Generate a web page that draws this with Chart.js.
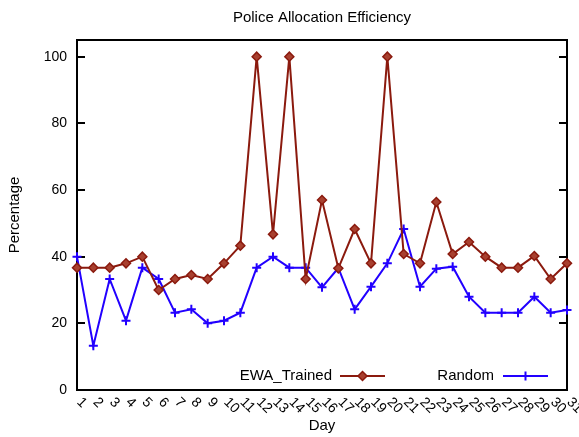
<!DOCTYPE html>
<html>
<head>
<meta charset="utf-8">
<script src="https://cdn.jsdelivr.net/npm/chart.js@4/dist/chart.umd.min.js"></script>
<style>
html,body{margin:0;padding:0;background:#fff;}
#wrap{width:579px;height:437px;}
</style>
</head>
<body>
<div id="wrap"><canvas id="c" width="579" height="437"></canvas></div>
<script>
const days = ["1","2","3","4","5","6","7","8","9","10","11","12","13","14","15","16","17","18","19","20","21","22","23","24","25","26","27","28","29","30","31"];
const ewaTrained = [36.7,36.7,36.7,38,40,30,33.3,34.5,33.3,38,43.3,100,46.7,100,33.3,57,36.5,48.3,38,100,40.8,38,56.4,40.8,44.4,40,36.7,36.7,40.2,33.3,38];
const randomAlloc = [40,13.3,33.3,20.8,36.7,33.3,23.2,24.2,20,20.8,23.2,36.7,40,36.7,36.7,30.8,36.6,24.2,31,38,48.3,31,36.4,37,28,23.2,23.2,23.2,28,23.2,24];
const yTicks = [0,20,40,60,80,100];
const chartTitle = "Police Allocation Efficiency";
const xTitle = "Day";
const yTitle = "Percentage";

const FAM = "'Liberation Sans', Arial, sans-serif";
const F14 = "14px " + FAM;
const F15 = "15px " + FAM;
const RED = "#8b1a0e";
const BLUE = "#2200ff";

const decor = {
  id: "decor",
  beforeDatasetsDraw(chart) {
    const ctx = chart.ctx, a = chart.chartArea, y = chart.scales.y;
    ctx.save();
    ctx.strokeStyle = "#000";
    ctx.lineWidth = 2;
    ctx.strokeRect(a.left, a.top, a.right - a.left, a.bottom - a.top);
    ctx.beginPath();
    yTicks.forEach(v => {
      const py = Math.round(y.getPixelForValue(v));
      ctx.moveTo(a.left, py); ctx.lineTo(a.left + 8, py);
      ctx.moveTo(a.right, py); ctx.lineTo(a.right - 8, py);
    });
    ctx.stroke();
    ctx.restore();
  },
  afterDraw(chart) {
    const ctx = chart.ctx, a = chart.chartArea, x = chart.scales.x;
    ctx.save();
    ctx.fillStyle = "#000";
    ctx.textAlign = "center"; ctx.textBaseline = "middle";
    ctx.font = F15;
    ctx.fillText(chartTitle, (a.left + a.right) / 2, 18);
    ctx.fillText(xTitle, (a.left + a.right) / 2, 426);
    ctx.save();
    ctx.translate(15, (a.top + a.bottom) / 2);
    ctx.rotate(-Math.PI / 2);
    ctx.fillText(yTitle, 0, 0);
    ctx.restore();
    // rotated x tick labels
    ctx.font = F14;
    days.forEach((d, i) => {
      const px = x.getPixelForValue(i);
      ctx.save();
      ctx.translate(px + 2, a.bottom + 10);
      ctx.rotate(Math.PI / 4);
      ctx.textAlign = "left"; ctx.textBaseline = "middle";
      ctx.fillText(d, 0, 0);
      ctx.restore();
    });
    // legend
    ctx.font = F15;
    const ly = 376;
    const items = [
      {ds: chart.data.datasets[0], textRight: 332, x0: 340, x1: 385},
      {ds: chart.data.datasets[1], textRight: 494, x0: 503, x1: 548}
    ];
    items.forEach(it => {
      ctx.textAlign = "right"; ctx.textBaseline = "middle";
      ctx.fillStyle = "#000";
      ctx.fillText(it.ds.label, it.textRight, ly);
      ctx.strokeStyle = it.ds.borderColor; ctx.lineWidth = 2;
      ctx.beginPath(); ctx.moveTo(it.x0, ly); ctx.lineTo(it.x1, ly); ctx.stroke();
      ctx.fillStyle = it.ds.pointBackgroundColor;
      ctx.strokeStyle = it.ds.borderColor;
      ctx.lineWidth = it.ds.pointBorderWidth;
      ctx.beginPath();
      const r = it.ds.pointRadius, cx = (it.x0 + it.x1) / 2;
      if (it.ds.pointStyle === "rectRot") {
        ctx.moveTo(cx, ly - r); ctx.lineTo(cx + r, ly); ctx.lineTo(cx, ly + r); ctx.lineTo(cx - r, ly); ctx.closePath();
        ctx.fill(); ctx.stroke();
      } else {
        ctx.moveTo(cx - r, ly); ctx.lineTo(cx + r, ly); ctx.moveTo(cx, ly - r); ctx.lineTo(cx, ly + r); ctx.stroke();
      }
    });
    ctx.restore();
  }
};

new Chart(document.getElementById("c"), {
  type: "line",
  data: {
    labels: days,
    datasets: [
      {label: "EWA_Trained", data: ewaTrained, borderColor: RED, backgroundColor: RED,
       pointBackgroundColor: "#a8402f", pointBorderColor: RED, pointStyle: "rectRot",
       pointRadius: 4.5, pointBorderWidth: 1.5, borderWidth: 2, tension: 0, clip: false},
      {label: "Random", data: randomAlloc, borderColor: BLUE, backgroundColor: BLUE,
       pointBackgroundColor: BLUE, pointBorderColor: BLUE, pointStyle: "cross",
       pointRadius: 4.5, pointBorderWidth: 2, borderWidth: 2, tension: 0, clip: false}
    ]
  },
  options: {
    responsive: false,
    animation: false,
    devicePixelRatio: 1,
    layout: {padding: {top: 40, right: 12, bottom: 0, left: 0}},
    plugins: {legend: {display: false}, title: {display: false}, tooltip: {enabled: false}},
    scales: {
      x: {
        type: "category",
        offset: false,
        grid: {display: false, drawTicks: false},
        border: {display: false},
        ticks: {display: false},
        afterFit(s) { s.height = 47; }
      },
      y: {
        min: 0, max: 105,
        grid: {display: false, drawTicks: false},
        border: {display: false},
        afterBuildTicks(s) { s.ticks = yTicks.map(v => ({value: v})); },
        afterFit(s) { s.width = 77; },
        ticks: {color: "#000", padding: 10, font: {family: FAM, size: 14}}
      }
    }
  },
  plugins: [decor]
});
</script>
</body>
</html>
